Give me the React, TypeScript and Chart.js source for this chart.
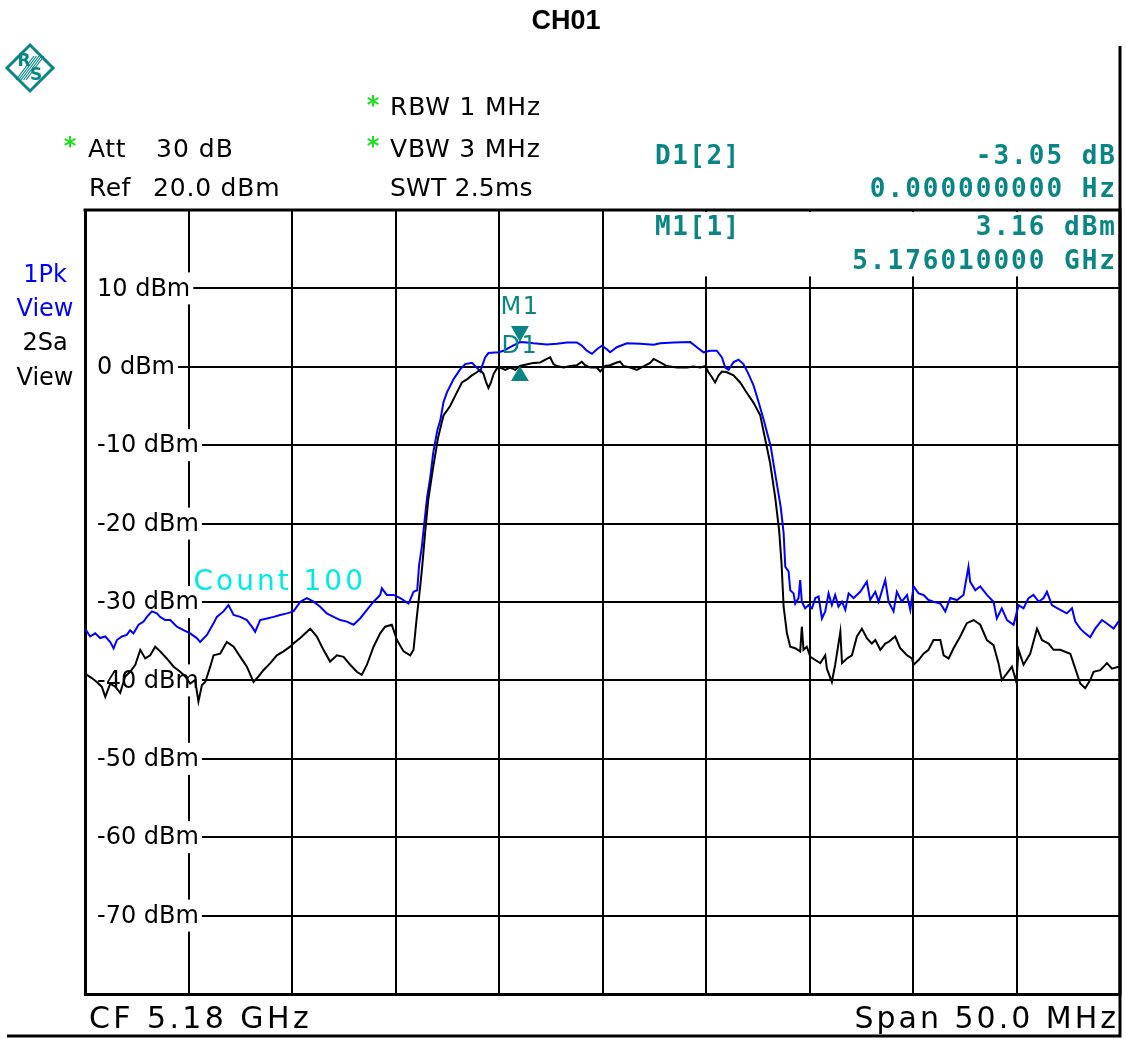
import React, { useEffect, useRef } from "react";
import { Chart, registerables } from "chart.js";

Chart.register(...registerables);

// ---- data (frequency in MHz, level in dBm) ----
// Trace 1: 1Pk View (blue)
const freqPk = [
  5155.0, 5155.25, 5155.49, 5155.73, 5155.98, 5156.22, 5156.38, 5156.54, 5156.78, 5157.02,
  5157.18, 5157.34, 5157.59, 5157.83, 5157.99, 5158.23, 5158.47, 5158.63, 5158.87, 5159.12,
  5159.44, 5159.76, 5160.08, 5160.4, 5160.56, 5160.89, 5161.21, 5161.37, 5161.69, 5161.93,
  5162.18, 5162.5, 5162.82, 5163.06, 5163.22, 5163.46, 5163.79, 5164.11, 5164.43, 5164.75,
  5165.07, 5165.4, 5165.72, 5166.04, 5166.36, 5166.68, 5167.01, 5167.33, 5167.65, 5167.97,
  5168.29, 5168.62, 5168.94, 5169.26, 5169.34, 5169.58, 5169.9, 5170.23, 5170.63, 5170.87,
  5171.05, 5171.14, 5171.27, 5171.34, 5171.53, 5171.68, 5171.82, 5172.02, 5172.16, 5172.32,
  5172.48, 5172.8, 5173.13, 5173.37, 5173.69, 5173.93, 5174.09, 5174.33, 5174.49, 5174.98,
  5175.22, 5175.54, 5176.01, 5176.35, 5176.67, 5177.31, 5177.8, 5178.28, 5178.76, 5179.0,
  5179.24, 5179.49, 5179.73, 5179.97, 5180.21, 5180.37, 5180.69, 5181.18, 5181.82, 5182.47,
  5182.79, 5183.43, 5184.24, 5184.56, 5184.88, 5185.2, 5185.52, 5185.77, 5185.93, 5186.09,
  5186.33, 5186.57, 5186.81, 5187.05, 5187.3, 5187.54, 5187.78, 5188.13, 5188.37, 5188.61,
  5188.75, 5188.83, 5188.99, 5189.07, 5189.23, 5189.31, 5189.47, 5189.55, 5189.63, 5189.79,
  5189.95, 5190.12, 5190.28, 5190.44, 5190.6, 5190.76, 5190.92, 5191.08, 5191.24, 5191.4,
  5191.57, 5191.73, 5191.89, 5192.13, 5192.45, 5192.77, 5192.93, 5193.18, 5193.34, 5193.66,
  5193.82, 5194.06, 5194.22, 5194.46, 5194.71, 5194.87, 5195.03, 5195.27, 5195.51, 5195.75,
  5195.99, 5196.32, 5196.56, 5196.8, 5197.12, 5197.44, 5197.68, 5197.76, 5198.01, 5198.25,
  5198.57, 5198.89, 5199.05, 5199.29, 5199.54, 5199.86, 5200.1, 5200.34, 5200.58, 5200.82,
  5201.07, 5201.31, 5201.47, 5201.71, 5202.11, 5202.43, 5202.68, 5202.84, 5203.08, 5203.32,
  5203.56, 5203.8, 5204.13, 5204.45, 5204.69, 5204.93, 5205.0,
];
const levelPk = [
  -33.4, -34.4, -34.0, -34.6, -34.4, -35.1, -35.9, -34.85, -34.4, -34.2,
  -33.6, -34.0, -32.9, -32.5, -31.9, -31.2, -31.45, -31.9, -32.3, -32.3,
  -33.15, -33.6, -34.0, -34.6, -35.1, -34.2, -32.7, -31.9, -31.2, -30.4,
  -31.66, -31.9, -32.3, -33.15, -33.8, -32.3, -32.1, -31.9, -31.66, -31.45,
  -31.2, -29.96, -29.5, -29.96, -30.6, -31.45, -31.9, -32.3, -32.5, -32.9,
  -32.1, -31.0, -29.96, -29.1, -28.25, -29.1, -29.1, -29.5, -30.2, -28.7,
  -28.5, -25.3, -23.0, -21.2, -16.6, -14.1, -11.0, -8.1, -6.9, -4.5,
  -3.3, -1.6, -0.3, 0.35, 0.5, -0.1, -0.6, 1.2, 1.75, 1.85,
  2.05, 2.5, 3.16, 3.1, 3.0, 2.85, 2.95, 3.1, 3.1, 2.7,
  2.05, 1.65, 2.25, 2.7, 2.25, 1.85, 2.5, 3.0, 2.95, 2.8,
  3.0, 3.1, 3.15, 2.5, 1.85, 2.05, 2.05, 1.2, -0.1, -0.4,
  0.6, 0.9, 0.35, -0.9, -2.4, -4.5, -6.7, -10.2, -14.1, -17.9,
  -21.2, -25.5, -26.1, -28.5, -28.9, -30.2, -29.5, -27.2, -29.96, -30.8,
  -30.4, -30.8, -29.5, -29.3, -32.1, -31.2, -28.9, -30.4, -29.1, -30.6,
  -29.96, -31.0, -28.9, -29.5, -28.7, -27.4, -29.75, -28.7, -29.96, -27.2,
  -29.96, -31.2, -28.7, -29.96, -29.1, -31.0, -28.0, -28.9, -29.1, -29.75,
  -29.96, -30.2, -31.2, -29.5, -29.75, -29.1, -25.5, -27.4, -28.5, -28.0,
  -29.1, -29.96, -32.1, -30.8, -32.3, -32.9, -30.4, -30.8, -29.5, -29.1,
  -29.96, -29.5, -28.7, -30.4, -31.0, -31.45, -30.8, -32.5, -33.4, -34.0,
  -34.5, -33.4, -32.3, -32.9, -33.4, -32.5, -32.5,
];

// Trace 2: 2Sa View (black)
const freqSa = [
  5155.0, 5155.09, 5155.33, 5155.57, 5155.81, 5155.98, 5156.22, 5156.46, 5156.7, 5156.94,
  5157.18, 5157.43, 5157.67, 5157.91, 5158.15, 5158.39, 5158.63, 5158.95, 5159.28, 5159.6,
  5159.84, 5160.08, 5160.32, 5160.48, 5160.65, 5160.81, 5161.05, 5161.21, 5161.53, 5161.85,
  5162.18, 5162.5, 5162.82, 5163.14, 5163.38, 5163.62, 5163.95, 5164.27, 5164.59, 5164.91,
  5165.07, 5165.4, 5165.88, 5166.2, 5166.52, 5166.84, 5167.17, 5167.49, 5167.81, 5168.13,
  5168.37, 5168.62, 5168.94, 5169.26, 5169.5, 5169.82, 5170.07, 5170.39, 5170.71, 5170.87,
  5171.03, 5171.19, 5171.29, 5171.43, 5171.58, 5171.82, 5172.06, 5172.32, 5172.64, 5172.96,
  5173.21, 5173.45, 5173.69, 5173.93, 5174.09, 5174.25, 5174.38, 5174.49, 5174.61, 5174.74,
  5174.9, 5175.06, 5175.3, 5175.54, 5175.78, 5176.01, 5176.43, 5176.67, 5176.99, 5177.31,
  5177.47, 5177.63, 5177.8, 5178.12, 5178.44, 5178.76, 5179.0, 5179.16, 5179.41, 5179.73,
  5179.89, 5180.13, 5180.37, 5180.69, 5180.85, 5181.02, 5181.34, 5181.66, 5181.98, 5182.3,
  5182.47, 5182.79, 5183.11, 5183.59, 5184.08, 5184.4, 5184.72, 5184.96, 5185.12, 5185.28,
  5185.44, 5185.61, 5185.77, 5186.01, 5186.33, 5186.65, 5186.97, 5187.3, 5187.62, 5187.77,
  5188.1, 5188.34, 5188.53, 5188.65, 5188.75, 5188.91, 5189.07, 5189.31, 5189.55, 5189.63,
  5189.71, 5189.87, 5190.04, 5190.28, 5190.52, 5190.76, 5190.84, 5191.08, 5191.24, 5191.49,
  5191.57, 5191.81, 5192.05, 5192.29, 5192.53, 5192.77, 5193.01, 5193.18, 5193.42, 5193.66,
  5193.82, 5194.14, 5194.38, 5194.71, 5194.95, 5195.03, 5195.27, 5195.51, 5195.75, 5195.99,
  5196.32, 5196.48, 5196.72, 5196.96, 5197.28, 5197.6, 5197.93, 5198.25, 5198.57, 5198.89,
  5199.13, 5199.29, 5199.54, 5199.78, 5199.99, 5200.1, 5200.34, 5200.66, 5200.99, 5201.23,
  5201.55, 5201.79, 5202.11, 5202.6, 5202.84, 5203.08, 5203.32, 5203.56, 5203.72, 5204.05,
  5204.37, 5204.61, 5204.93, 5205.0,
];
const levelSa = [
  -39.0, -39.3, -39.7, -40.2, -40.8, -42.1, -40.4, -40.8, -41.6, -39.5,
  -38.9, -38.0, -36.1, -37.2, -36.8, -35.7, -36.3, -37.2, -38.25, -38.9,
  -39.5, -40.4, -39.95, -42.7, -40.6, -40.2, -38.25, -36.8, -36.6, -35.1,
  -35.7, -37.0, -38.25, -40.2, -39.5, -38.7, -37.8, -36.8, -36.3, -35.7,
  -35.3, -34.6, -33.4, -34.4, -36.1, -37.6, -36.8, -37.0, -38.0, -38.9,
  -39.3, -38.0, -35.7, -34.0, -33.15, -32.9, -34.85, -36.3, -36.8, -36.1,
  -31.9, -28.1, -25.5, -21.2, -17.0, -12.8, -9.0, -6.2, -5.0, -3.3,
  -2.0, -1.6, -1.1, -0.7, -0.4, -0.9, -2.0, -2.7, -2.0, -0.9,
  -0.2, -0.1, -0.4, -0.1, -0.4, 0.11, 0.35, 0.5, 0.55, 1.0,
  1.2, 0.35, 0.1, -0.1, 0.1, 0.2, 0.65, 0.2, -0.1, -0.1,
  -0.6, 0.1, 0.2, 0.55, 0.65, 0.1, -0.1, -0.4, 0.05, 0.5,
  1.0, 0.55, 0.1, -0.1, -0.1, 0.05, -0.1, 0.1, -0.7, -1.3,
  -2.0, -1.1, -0.6, -0.7, -1.1, -2.0, -3.3, -4.6, -6.2, -8.1,
  -12.3, -16.6, -20.8, -25.1, -30.6, -34.0, -35.7, -35.9, -36.3, -33.15,
  -36.1, -35.7, -37.0, -37.4, -37.8, -36.8, -38.5, -40.2, -38.0, -33.8,
  -37.8, -37.2, -36.8, -34.4, -33.4, -34.6, -35.3, -34.85, -36.1, -35.3,
  -35.1, -34.4, -35.9, -36.8, -37.2, -38.0, -37.4, -36.6, -36.1, -34.85,
  -34.85, -36.8, -37.2, -35.9, -34.4, -32.7, -32.3, -32.9, -34.85, -35.5,
  -37.8, -39.95, -39.1, -38.25, -40.2, -36.1, -38.0, -36.6, -33.4, -34.85,
  -35.3, -36.1, -36.1, -36.6, -38.5, -40.4, -41.0, -39.95, -38.9, -38.7,
  -37.8, -38.5, -38.25, -38.3,
];

const yTickValues = [10, 0, -10, -20, -30, -40, -50, -60, -70];
const yTickLabels = ["10 dBm", "0 dBm", "-10 dBm", "-20 dBm", "-30 dBm", "-40 dBm", "-50 dBm", "-60 dBm", "-70 dBm"];

const markerNames = ["M1", "D1"];
const markerFreq = [5176.01, 5176.01];
const markerLevel = [3.16, 0.11];

const TEAL = "#0a8585";
const SANS = '"DejaVu Sans", Verdana, sans-serif';
const MONO = '"DejaVu Sans Mono", monospace';

function txt(
  ctx: CanvasRenderingContext2D,
  s: string,
  x: number,
  y: number,
  font: string,
  color: string,
  align: CanvasTextAlign = "left",
  ls = "0px"
) {
  ctx.save();
  ctx.font = font;
  ctx.fillStyle = color;
  ctx.textAlign = align;
  ctx.textBaseline = "middle";
  (ctx as any).letterSpacing = ls;
  ctx.fillText(s, x, y);
  ctx.restore();
}

const decorPlugin = {
  id: "decor",
  beforeDatasetsDraw(chart: any) {
    const { ctx, chartArea } = chart;
    const ys = chart.scales.y;
    const xs = chart.scales.x;
    ctx.save();
    // marker readout box inside plot
    const boxLeft = xs.getPixelForValue(5180) + 2;
    const boxBottom = ys.getPixelForValue(10) - 12;
    ctx.fillStyle = "#fff";
    ctx.fillRect(boxLeft, chartArea.top + 2, chartArea.right - boxLeft - 2, boxBottom - chartArea.top - 2);
    // y labels with white backgrounds
    ctx.font = `24px ${SANS}`;
    yTickValues.forEach((v, i) => {
      const y = ys.getPixelForValue(v);
      const w = ctx.measureText(yTickLabels[i]).width;
      ctx.fillStyle = "#fff";
      ctx.fillRect(chartArea.left + 2, y - 16, w + 13, 32);
      ctx.fillStyle = "#000";
      ctx.textBaseline = "middle";
      ctx.fillText(yTickLabels[i], chartArea.left + 12, y + 1);
    });
    // top & right borders
    ctx.strokeStyle = "#000";
    ctx.lineWidth = 3;
    ctx.beginPath();
    ctx.moveTo(chartArea.left - 1.5, chartArea.top);
    ctx.lineTo(chartArea.right, chartArea.top);
    ctx.lineTo(chartArea.right, chartArea.bottom + 1.5);
    ctx.stroke();
    ctx.restore();
    // Count 100
    txt(ctx, "Count 100", xs.getPixelForValue(5160.24), ys.getPixelForValue(-27.5), `28px ${SANS}`, "#00e8e8", "left", "3px");
  },
  afterDatasetsDraw(chart: any) {
    const { ctx } = chart;
    const ys = chart.scales.y;
    const xs = chart.scales.x;
    markerNames.forEach((name, i) => {
      const x = xs.getPixelForValue(markerFreq[i]);
      const y = ys.getPixelForValue(markerLevel[i]);
      ctx.save();
      ctx.fillStyle = TEAL;
      ctx.beginPath();
      if (i === 0) {
        ctx.moveTo(x - 9, y - 16);
        ctx.lineTo(x + 9, y - 16);
        ctx.lineTo(x, y);
      } else {
        ctx.moveTo(x - 9, y + 15);
        ctx.lineTo(x + 9, y + 15);
        ctx.lineTo(x, y);
      }
      ctx.closePath();
      ctx.fill();
      ctx.restore();
      const ly = i === 0 ? y - 34 : y - 19;
      txt(ctx, name, x, ly, `24px ${SANS}`, TEAL, "center", "1.5px");
    });
  },
  afterDraw(chart: any) {
    const { ctx } = chart;
    // outer frame lines
    ctx.save();
    ctx.strokeStyle = "#000";
    ctx.lineWidth = 3;
    ctx.beginPath();
    ctx.moveTo(1120, 46);
    ctx.lineTo(1120, 1036);
    ctx.moveTo(7, 1036);
    ctx.lineTo(1121.5, 1036);
    ctx.stroke();
    ctx.restore();

    // title
    txt(ctx, "CH01", 566, 22, `bold 27px "Liberation Sans", Arial, sans-serif`, "#000", "center");

    // R&S logo
    ctx.save();
    ctx.strokeStyle = TEAL;
    ctx.lineWidth = 3;
    ctx.beginPath();
    ctx.moveTo(30, 45);
    ctx.lineTo(53, 68);
    ctx.lineTo(30, 91);
    ctx.lineTo(7, 68);
    ctx.closePath();
    ctx.stroke();
    ctx.lineWidth = 1.2;
    ctx.beginPath();
    for (let k = -2; k <= 2; k++) {
      ctx.moveTo(21 + k * 2.5, 80);
      ctx.lineTo(39 + k * 2.5, 56);
    }
    ctx.stroke();
    ctx.restore();
    txt(ctx, "R", 24, 62, `bold 17px ${SANS}`, TEAL, "center");
    txt(ctx, "S", 36, 76, `bold 17px ${SANS}`, TEAL, "center");

    // header settings
    const HF = `25px ${SANS}`;
    const GREEN = "#1ddf1d";
    txt(ctx, "*", 70, 148, `bold 24px ${SANS}`, GREEN, "center");
    txt(ctx, "*", 373, 107, `bold 24px ${SANS}`, GREEN, "center");
    txt(ctx, "*", 373, 148, `bold 24px ${SANS}`, GREEN, "center");
    txt(ctx, "Att", 88, 150, HF, "#000", "left", "0.6px");
    txt(ctx, "30 dB", 156, 150, HF, "#000", "left", "1px");
    txt(ctx, "Ref", 89, 189, HF, "#000", "left", "0.4px");
    txt(ctx, "20.0 dBm", 153, 189, HF, "#000", "left", "0.8px");
    txt(ctx, "RBW 1 MHz", 390, 108, HF, "#000", "left", "0.8px");
    txt(ctx, "VBW 3 MHz", 390, 150, HF, "#000", "left", "0.8px");
    txt(ctx, "SWT 2.5ms", 390, 189, HF, "#000", "left", "0.2px");

    // marker readouts
    const MF = `bold 26px ${MONO}`;
    txt(ctx, "D1[2]", 655, 157, MF, TEAL, "left", "1.5px");
    txt(ctx, "-3.05 dB", 1117, 157, MF, TEAL, "right", "2px");
    txt(ctx, "0.000000000 Hz", 1117, 190, MF, TEAL, "right", "2px");
    txt(ctx, "M1[1]", 655, 228, MF, TEAL, "left", "1.5px");
    txt(ctx, "3.16 dBm", 1117, 228, MF, TEAL, "right", "2px");
    txt(ctx, "5.176010000 GHz", 1117, 262, MF, TEAL, "right", "2px");

    // trace labels
    txt(ctx, "1Pk", 45, 276, `24px ${SANS}`, "#0000ff", "center");
    txt(ctx, "View", 45, 310, `24px ${SANS}`, "#0000ff", "center");
    txt(ctx, "2Sa", 45, 344, `24px ${SANS}`, "#000", "center");
    txt(ctx, "View", 45, 379, `24px ${SANS}`, "#000", "center");

    // footer
    txt(ctx, "CF 5.18 GHz", 89, 1020, `30px ${SANS}`, "#000", "left", "3.4px");
    txt(ctx, "Span 50.0 MHz", 1119, 1020, `30px ${SANS}`, "#000", "right", "3px");
  },
};

export default function App() {
  const ref = useRef<HTMLCanvasElement | null>(null);
  useEffect(() => {
    if (!ref.current) return;
    const chart = new Chart(ref.current, {
      type: "line",
      data: {
        datasets: [
          {
            label: "2Sa View",
            data: freqSa.map((f, i) => ({ x: f, y: levelSa[i] })),
            borderColor: "#000000",
            borderWidth: 2,
            pointRadius: 0,
            tension: 0,
            order: 1,
          },
          {
            label: "1Pk View",
            data: freqPk.map((f, i) => ({ x: f, y: levelPk[i] })),
            borderColor: "#0000ff",
            borderWidth: 2,
            pointRadius: 0,
            tension: 0,
            order: 2,
          },
        ],
      },
      options: {
        responsive: false,
        animation: false,
        events: [],
        layout: { padding: { left: 85, right: 6, top: 210, bottom: 45 } },
        plugins: { legend: { display: false }, tooltip: { enabled: false }, title: { display: false } },
        scales: {
          x: {
            type: "linear",
            min: 5155,
            max: 5205,
            ticks: { display: false, stepSize: 5 },
            grid: { color: "#000", lineWidth: 2, drawTicks: false },
            border: { display: true, color: "#000", width: 3 },
          },
          y: {
            type: "linear",
            min: -80,
            max: 20,
            ticks: { display: false, stepSize: 10 },
            grid: { color: "#000", lineWidth: 2, drawTicks: false },
            border: { display: true, color: "#000", width: 3 },
          },
        },
      },
      plugins: [decorPlugin],
    });
    return () => chart.destroy();
  }, []);
  return (
    <div style={{ position: "absolute", left: 0, top: 0, width: 1126, height: 1039, background: "#fff" }}>
      <canvas ref={ref} width={1126} height={1039} style={{ display: "block" }} />
    </div>
  );
}
